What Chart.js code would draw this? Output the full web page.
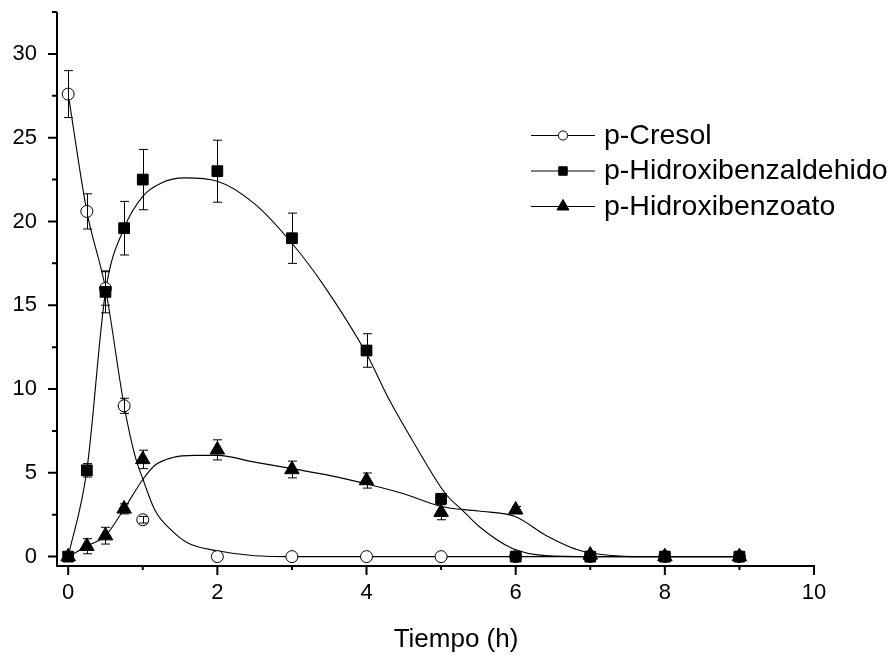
<!DOCTYPE html>
<html><head><meta charset="utf-8">
<script src="https://cdn.jsdelivr.net/npm/chart.js@4/dist/chart.umd.min.js"></script>
<style>html,body{margin:0;padding:0;background:#fff}#wrap{width:895px;height:657px;position:relative}</style>
</head><body><div id="wrap"><canvas id="c" width="895" height="657"></canvas></div>
<script>
// ---- measured data ----
const times = [0, 0.25, 0.5, 0.75, 1, 2, 3, 4, 5, 6, 7, 8, 9];
const cresol = [27.6, 20.6, 16.0, 9.0, 2.2, 0, 0, 0, 0, 0, 0, 0, 0];
const cresolErr = [1.4, 1.05, 1.0, 0.45, 0.2, 0, 0, 0, 0, 0, 0, 0, 0];
const aldehido = [0, 5.15, 15.8, 19.6, 22.5, 23.0, 19.0, 12.3, 3.45, 0, 0, 0, 0];
const aldehidoErr = [0, 0.4, 1.25, 1.6, 1.8, 1.85, 1.5, 1.0, 0, 0, 0, 0, 0];
const benzoato = [0, 0.62, 1.25, 2.85, 5.8, 6.37, 5.2, 4.54, 2.65, 2.79, 0.1, 0, 0];
const benzoatoErr = [0, 0.45, 0.5, 0.3, 0.55, 0.6, 0.5, 0.45, 0.45, 0.2, 0.1, 0, 0];

// fitted curves
const cresolFitX = [0, 0.25, 0.5, 0.75, 0.9, 1.0, 1.16, 1.39, 1.61, 2.0, 2.5, 3.0, 9.0];
const cresolFitY = [27.6, 20.6, 16.0, 9.0, 5.95, 4.65, 2.8, 1.55, 0.8, 0.35, 0.05, 0, 0];
const aldehidoFitX = [0, 0.25, 0.5, 0.75, 1.0, 1.25, 1.56, 2.0, 2.5, 3.0, 3.44, 4.0, 4.3, 4.62, 5.06, 5.29, 5.51, 5.95, 6.4, 7.0, 9.0];
const aldehidoFitY = [0, 5.15, 15.8, 19.6, 21.5, 22.3, 22.6, 22.4, 21.05, 18.7, 16.1, 12.1, 9.4, 6.9, 3.75, 2.75, 1.8, 0.5, 0.06, 0, 0];
const benzoatoFitX = [0, 0.25, 0.5, 0.75, 1.0, 1.16, 1.39, 1.7, 2.0, 2.5, 3.0, 3.5, 4.0, 4.5, 5.0, 5.5, 6.0, 6.4, 6.85, 7.3, 7.6, 9.0];
const benzoatoFitY = [0, 0.62, 1.25, 2.85, 4.6, 5.44, 5.9, 6.04, 6.04, 5.64, 5.25, 4.85, 4.34, 3.75, 2.99, 2.72, 2.38, 1.28, 0.38, 0.06, 0, 0];

const seriesNames = ['p-Cresol', 'p-Hidroxibenzaldehido', 'p-Hidroxibenzoato'];
const xTitle = 'Tiempo (h)';
const xTickLabels = [0, 2, 4, 6, 8, 10];
const yTickLabels = [0, 5, 10, 15, 20, 25, 30];
const xMinorTicks = [1, 3, 5, 7, 9];
const yMinorTicks = [2.5, 7.5, 12.5, 17.5, 22.5, 27.5, 32.5];

const FONT = "'Liberation Sans', Arial, Helvetica, sans-serif";
const pts = (xs, ys) => xs.map((x, i) => ({x: x, y: ys[i]}));

const markerSets = [
  {label: seriesNames[0], data: pts(times, cresol), err: cresolErr, pointStyle: 'circle', pointRadius: 6, pointBackgroundColor: '#fff', order: 3},
  {label: seriesNames[1], data: pts(times, aldehido), err: aldehidoErr, pointStyle: 'rect', pointRadius: 7.6, pointBackgroundColor: '#000', order: 2},
  {label: seriesNames[2], data: pts(times, benzoato), err: benzoatoErr, pointStyle: 'triangle', pointRadius: 8.4, pointBackgroundColor: '#000', order: 1}
].map(d => Object.assign({showLine: false, borderColor: '#000', pointBorderColor: '#000', pointBorderWidth: 1, pointHoverRadius: d.pointRadius, isMarker: true}, d));

const fitSets = [pts(cresolFitX, cresolFitY), pts(aldehidoFitX, aldehidoFitY), pts(benzoatoFitX, benzoatoFitY)].map((data, i) => ({
  label: seriesNames[i] + ' (ajuste)', data: data, showLine: true, pointRadius: 0, pointHoverRadius: 0,
  borderColor: '#000', borderWidth: 1.1, cubicInterpolationMode: 'monotone', fill: false, order: 10
}));

const errorBars = {
  id: 'errorBars',
  afterDatasetDraw(chart, args) {
    const ds = chart.data.datasets[args.index];
    if (!ds.isMarker) return;
    const xs = chart.scales.x, ys = chart.scales.y, ctx = chart.ctx;
    ctx.save();
    ctx.strokeStyle = '#000';
    ctx.lineWidth = 1;
    ds.data.forEach((p, i) => {
      const e = ds.err[i];
      if (!e) return;
      const px = Math.round(xs.getPixelForValue(p.x)) + 0.5;
      const top = ys.getPixelForValue(p.y + e), bot = ys.getPixelForValue(p.y - e);
      ctx.beginPath();
      ctx.moveTo(px, top); ctx.lineTo(px, bot);
      ctx.moveTo(px - 4.5, top); ctx.lineTo(px + 4.5, top);
      ctx.moveTo(px - 4.5, bot); ctx.lineTo(px + 4.5, bot);
      ctx.stroke();
    });
    ctx.restore();
  }
};

const axesAndLegend = {
  id: 'axesAndLegend',
  afterDraw(chart) {
    const ctx = chart.ctx, xs = chart.scales.x, ys = chart.scales.y, a = chart.chartArea;
    ctx.save();
    ctx.strokeStyle = '#000';
    ctx.lineWidth = 2;
    ctx.beginPath();
    ctx.moveTo(a.left, a.top); ctx.lineTo(a.left, a.bottom + 1); ctx.lineTo(a.right, a.bottom + 1);
    ctx.stroke();
    ctx.beginPath();
    xTickLabels.forEach(v => { const p = xs.getPixelForValue(v); ctx.moveTo(p, a.bottom); ctx.lineTo(p, a.bottom + 10); });
    xMinorTicks.forEach(v => { const p = xs.getPixelForValue(v); ctx.moveTo(p, a.bottom); ctx.lineTo(p, a.bottom + 5); });
    yTickLabels.forEach(v => { const p = ys.getPixelForValue(v); ctx.moveTo(a.left, p); ctx.lineTo(a.left - 9, p); });
    yMinorTicks.forEach(v => { const p = ys.getPixelForValue(v); ctx.moveTo(a.left, p); ctx.lineTo(a.left - 5, p); });
    ctx.stroke();

    // axis title
    ctx.fillStyle = '#000';
    ctx.font = '26px ' + FONT;
    ctx.textAlign = 'center'; ctx.textBaseline = 'middle';
    ctx.fillText(xTitle, 456, 640);

    // legend
    const rows = [135, 170.5, 206];
    const styles = ['circle', 'rect', 'triangle'];
    const fills = ['#fff', '#000', '#000'];
    const radii = [4.6, 6, 7];
    rows.forEach((y, i) => {
      ctx.strokeStyle = '#000'; ctx.lineWidth = 1;
      ctx.beginPath(); ctx.moveTo(531, y + 0.5); ctx.lineTo(595, y + 0.5); ctx.stroke();
      ctx.fillStyle = fills[i]; ctx.strokeStyle = '#000'; ctx.lineWidth = 1;
      Chart.helpers.drawPoint(ctx, {pointStyle: styles[i], radius: radii[i], borderWidth: 1}, 563, y + 0.5);
      ctx.fillStyle = '#000';
      ctx.font = '28.5px ' + FONT;
      ctx.textAlign = 'left'; ctx.textBaseline = 'middle';
      ctx.fillText(seriesNames[i], 604, y + 1);
    });
    ctx.restore();
  }
};

new Chart(document.getElementById('c'), {
  type: 'scatter',
  data: {datasets: [...markerSets, ...fitSets]},
  options: {
    responsive: false, animation: false, devicePixelRatio: 1,
    layout: {autoPadding: false, padding: {top: 12, right: 81, left: 0, bottom: 0}},
    plugins: {legend: {display: false}, tooltip: {enabled: false}},
    scales: {
      x: {
        type: 'linear', min: -0.15, max: 10,
        grid: {display: false, drawTicks: false}, border: {display: false},
        afterBuildTicks: s => { s.ticks = xTickLabels.map(v => ({value: v})); },
        afterFit: s => { s.height = 92; s.paddingLeft = 0; s.paddingRight = 0; },
        ticks: {color: '#000', font: {family: FONT, size: 22}, padding: 15, maxRotation: 0, autoSkip: false, callback: v => String(v)}
      },
      y: {
        type: 'linear', min: -0.5, max: 32.5,
        grid: {display: false, drawTicks: false}, border: {display: false},
        afterBuildTicks: s => { s.ticks = yTickLabels.map(v => ({value: v})); },
        afterFit: s => { s.width = 57; s.paddingTop = 0; s.paddingBottom = 0; },
        ticks: {color: '#000', font: {family: FONT, size: 22}, padding: 20, autoSkip: false, callback: v => String(v)}
      }
    }
  },
  plugins: [errorBars, axesAndLegend]
});
</script></body></html>
